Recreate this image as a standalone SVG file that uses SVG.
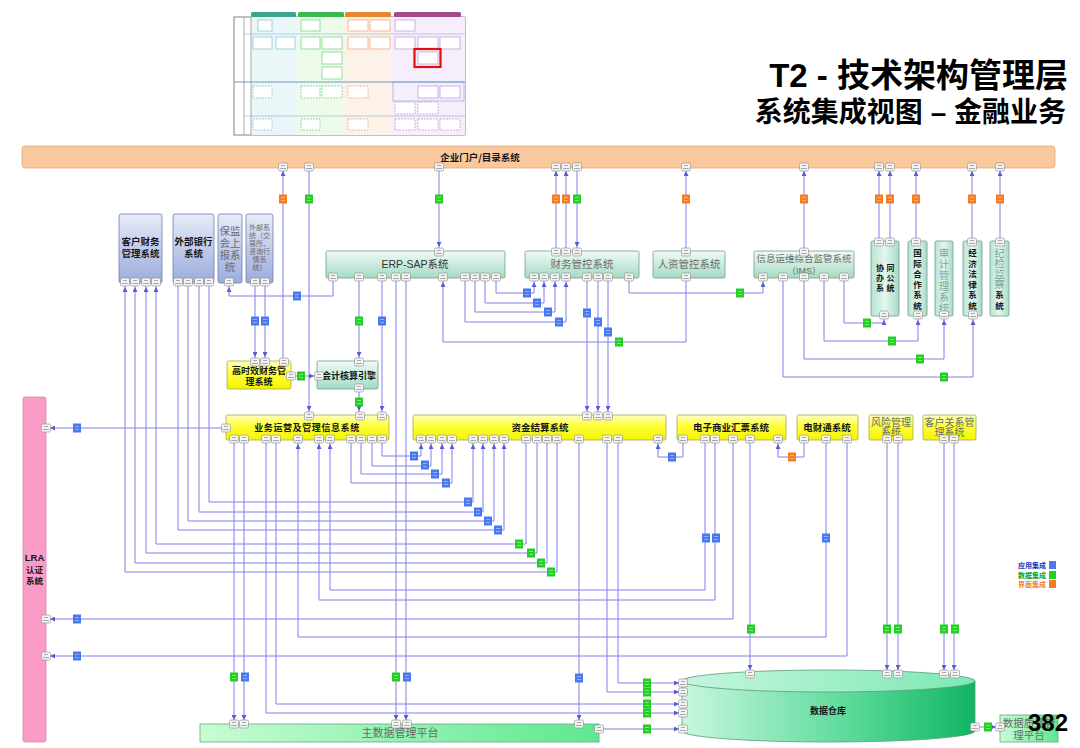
<svg xmlns="http://www.w3.org/2000/svg" width="1080" height="748" viewBox="0 0 1080 748">
<defs>
<style>
.ln{fill:none;stroke:#8080ec;stroke-width:1}
.b{font-family:"Noto Sans CJK SC","Liberation Sans",sans-serif;font-weight:700;fill:#151515;font-size:9.5px}
.s{font-family:"Liberation Serif","Noto Sans CJK SC",serif;fill:#6a6a6a;font-size:10px}
.c{text-anchor:middle}
.title{font-family:"Liberation Sans","Noto Sans CJK SC",sans-serif;font-weight:700;fill:#000;text-anchor:end}
.bx{stroke:#6f7fae;stroke-width:.8}
.tl{stroke:#6f9d8a;stroke-width:.8}
.yl{stroke:#a8a84a;stroke-width:.8}
.doc{fill:#fff;stroke-width:.7}
</style>
<linearGradient id="gBlue" x1="0" y1="0" x2="0" y2="1"><stop offset="0" stop-color="#e8ecf8"/><stop offset="1" stop-color="#9aabdc"/></linearGradient>
<linearGradient id="gTeal" x1="0" y1="0" x2="0" y2="1"><stop offset="0" stop-color="#f0fbf6"/><stop offset="1" stop-color="#a4dac4"/></linearGradient>
<linearGradient id="gTealV" x1="0" y1="0" x2="1" y2="0"><stop offset="0" stop-color="#b6e4d2"/><stop offset=".5" stop-color="#e4f6ee"/><stop offset="1" stop-color="#a8dac6"/></linearGradient>
<linearGradient id="gYel" x1="0" y1="0" x2="0" y2="1"><stop offset="0" stop-color="#ffffc4"/><stop offset=".4" stop-color="#ffff40"/><stop offset="1" stop-color="#f4f400"/></linearGradient>
<linearGradient id="gGrn" x1="0" y1="0" x2="1" y2="0"><stop offset="0" stop-color="#c8fcd4"/><stop offset="1" stop-color="#5ee890"/></linearGradient>
<linearGradient id="gCyl" x1="0" y1="0" x2="1" y2="0"><stop offset="0" stop-color="#c8f7e0"/><stop offset=".6" stop-color="#56d896"/><stop offset="1" stop-color="#10b463"/></linearGradient>
<linearGradient id="gCylTop" x1="0" y1="0" x2="1" y2="0"><stop offset="0" stop-color="#c4f6de"/><stop offset="1" stop-color="#7ee8b4"/></linearGradient>
<marker id="ar" markerWidth="5" markerHeight="5" refX="9" refY="2.5" orient="auto" markerUnits="userSpaceOnUse"><path d="M0,0L5,2.5L0,5z" fill="#5a5ad8"/></marker>
<g id="pt"><rect x="-4.5" y="-4" width="9" height="8" rx="1.5" fill="#f3f3f3" stroke="#8a8a8a" stroke-width=".6"/><path d="M-2,-1.5h4M-3,1.5h6" stroke="#777" stroke-width=".6"/></g>
<g id="lb"><rect x="-4" y="-4.5" width="8" height="9" fill="#4a78f0"/><path d="M-2,-1.5h4M-2,1.5h4" stroke="#d8e4ff" stroke-width=".5"/></g>
<g id="lg"><rect x="-4" y="-4.5" width="8" height="9" fill="#22d022"/><path d="M-2,-1.5h4M-2,1.5h4" stroke="#d8ffd8" stroke-width=".5"/></g>
<g id="lo"><rect x="-4" y="-4.5" width="8" height="9" fill="#f47c22"/><path d="M-2,-1.5h4M-2,1.5h4" stroke="#ffe2cc" stroke-width=".5"/></g>
</defs>
<rect width="1080" height="748" fill="#fff"/>

<!-- thumbnail -->
<g id="thumbnail">
<rect x="234" y="17" width="231" height="118" fill="#fff" stroke="#666" stroke-width=".8"/>
<rect x="251" y="17" width="46" height="118" fill="#eaf6f8"/>
<rect x="297" y="17" width="47" height="118" fill="#eefbea"/>
<rect x="344" y="17" width="48" height="118" fill="#fdf2e8"/>
<rect x="392" y="17" width="73" height="118" fill="#f6eefb"/>
<rect x="251" y="12" width="45" height="5" rx="1.5" fill="#3aa58c"/>
<rect x="298" y="12" width="46" height="5" rx="1.5" fill="#3cb84c"/>
<rect x="345" y="12" width="46" height="5" rx="1.5" fill="#e58a30"/>
<rect x="394" y="12" width="67" height="5" rx="1.5" fill="#a24a8c"/>
<path d="M244,34H465M244,116H465" stroke="#8fb0d0" stroke-width=".6" fill="none"/>
<path d="M234,82H465" stroke="#5f8fc0" stroke-width=".9" fill="none"/>
<path d="M244,17V135M251,17V135" stroke="#777" stroke-width=".6" fill="none"/>
<rect x="393" y="82" width="71" height="19" fill="none" stroke="#7aa0d0" stroke-width=".6"/>
<g stroke="#7cc4cc" class="doc">
<rect x="258" y="20" width="14" height="11"/><rect x="253" y="37" width="19" height="12"/><rect x="276" y="37" width="19" height="12"/>
<rect x="253" y="86" width="19" height="12" stroke-dasharray="2,1"/><rect x="253" y="119" width="19" height="11" stroke-dasharray="2,1"/>
</g>
<g stroke="#6cd07a" class="doc">
<rect x="301" y="20" width="19" height="11"/><rect x="301" y="37" width="19" height="12"/><rect x="322" y="37" width="20" height="12"/>
<rect x="322" y="52" width="20" height="12"/><rect x="322" y="67" width="20" height="12"/>
<rect x="301" y="86" width="19" height="12" stroke-dasharray="2,1"/><rect x="322" y="86" width="20" height="12" stroke-dasharray="2,1"/>
<rect x="301" y="119" width="19" height="11" stroke-dasharray="2,1"/>
</g>
<g stroke="#f0a070" class="doc">
<rect x="348" y="20" width="20" height="11"/><rect x="370" y="20" width="20" height="11"/><rect x="348" y="37" width="20" height="12"/><rect x="370" y="37" width="20" height="12"/>
<rect x="348" y="86" width="20" height="12" stroke-dasharray="2,1"/><rect x="348" y="119" width="20" height="11" stroke-dasharray="2,1"/>
</g>
<g stroke="#c090d8" class="doc">
<rect x="395" y="20" width="20" height="11"/><rect x="395" y="37" width="20" height="12"/><rect x="418" y="37" width="20" height="12"/><rect x="440" y="37" width="20" height="12"/>
<rect x="418" y="52" width="20" height="12"/>
<rect x="418" y="86" width="20" height="12"/><rect x="440" y="86" width="20" height="12"/>
<rect x="395" y="102" width="20" height="12" stroke-dasharray="2,1"/><rect x="418" y="102" width="20" height="12" stroke-dasharray="2,1"/>
<rect x="395" y="119" width="20" height="11" stroke-dasharray="2,1"/><rect x="418" y="119" width="20" height="11" stroke-dasharray="2,1"/><rect x="440" y="119" width="20" height="11" stroke-dasharray="2,1"/>
</g>
<rect x="414.5" y="49" width="26" height="18" fill="none" stroke="#e01010" stroke-width="2.2"/>
</g>

<!-- title -->
<g id="title">
<text class="title" x="1068" y="87" style="font-size:33px">T2 - 技术架构管理层</text>
<text class="title" x="1066" y="122" style="font-size:28px">系统集成视图 – 金融业务</text>
</g>

<!-- nodes -->
<g id="portal"><rect x="22" y="146" width="1033" height="22" rx="3" fill="#f9c89c" stroke="#e3a878" stroke-width=".8"/><text class="b c" x="480" y="161">企业门户/目录系统</text></g>

<g id="khcw"><rect class="bx" x="119" y="214" width="43" height="69" rx="2" fill="url(#gBlue)"/><text class="b c" x="140.5" y="245">客户财务</text><text class="b c" x="140.5" y="257">管理系统</text></g>
<g id="wbyh"><rect class="bx" x="173" y="214" width="41" height="69" rx="2" fill="url(#gBlue)"/><text class="b c" x="193.5" y="245">外部银行</text><text class="b c" x="193.5" y="257">系统</text></g>
<g id="bjh"><rect class="bx" x="218" y="214" width="24" height="69" rx="2" fill="url(#gBlue)"/>
<text class="s c" style="font-size:10.5px"><tspan x="230" y="235">保监</tspan><tspan x="230" y="247">会上</tspan><tspan x="230" y="259">报系</tspan><tspan x="230" y="271">统</tspan></text></g>
<g id="wbxt"><rect class="bx" x="246" y="214" width="27" height="69" rx="2" fill="url(#gBlue)"/>
<text class="s c" style="font-size:7px"><tspan x="259.5" y="230">外部系</tspan><tspan x="259.5" y="238">统（交</tspan><tspan x="259.5" y="246">易所、</tspan><tspan x="259.5" y="254">咨询行</tspan><tspan x="259.5" y="262">情系</tspan><tspan x="259.5" y="270">统）</tspan></text></g>

<g id="erp"><rect class="tl" x="326" y="251" width="179" height="27" rx="1.5" fill="url(#gTeal)"/><text x="415" y="268" font-size="10.5" fill="#333" font-family="Liberation Sans,Noto Sans CJK SC,sans-serif" text-anchor="middle">ERP-SAP系统</text></g>
<g id="cwgk"><rect class="tl" x="525" y="251" width="114" height="27" rx="1.5" fill="url(#gTeal)"/><text class="s c" x="582" y="268" style="font-size:10.5px">财务管控系统</text></g>
<g id="rzgk"><rect class="tl" x="653" y="251" width="72" height="27" rx="1.5" fill="url(#gTeal)"/><text class="s c" x="689" y="268" style="font-size:10.5px">人资管控系统</text></g>
<g id="ims"><rect class="tl" x="754" y="251" width="100" height="27" rx="1.5" fill="url(#gTeal)"/><text class="s c" x="804" y="262" style="font-size:9.5px">信息运维综合监管系统</text><text class="s c" x="804" y="274" style="font-size:9px;font-family:Liberation Sans,Noto Sans CJK SC,sans-serif">（IMS）</text></g>

<g id="xtbg"><rect class="tl" x="871" y="241" width="28" height="75" rx="1.5" fill="url(#gTealV)"/>
<text class="b c" style="font-size:8px"><tspan x="880" y="271">协</tspan><tspan x="890.5" y="271">同</tspan><tspan x="880" y="281">办</tspan><tspan x="890.5" y="281">公</tspan><tspan x="880" y="291">系</tspan><tspan x="890.5" y="291">统</tspan></text></g>
<g id="gjhz"><rect class="tl" x="908" y="241" width="19" height="75" rx="1.5" fill="url(#gTealV)"/>
<text class="b c" style="font-size:8.5px"><tspan x="917.5" y="256">国</tspan><tspan x="917.5" y="266.5">际</tspan><tspan x="917.5" y="277">合</tspan><tspan x="917.5" y="287.5">作</tspan><tspan x="917.5" y="298">系</tspan><tspan x="917.5" y="308.5">统</tspan></text></g>
<g id="sjgl"><rect class="tl" x="935" y="241" width="18" height="75" rx="1.5" fill="url(#gTealV)"/>
<text class="s c" style="font-size:10px;fill:#7aa49a"><tspan x="944" y="257">审</tspan><tspan x="944" y="268">计</tspan><tspan x="944" y="279">管</tspan><tspan x="944" y="290">理</tspan><tspan x="944" y="301">系</tspan><tspan x="944" y="312">统</tspan></text></g>
<g id="jjfl"><rect class="tl" x="963" y="241" width="19" height="75" rx="1.5" fill="url(#gTealV)"/>
<text class="b c" style="font-size:8.5px"><tspan x="972.5" y="256">经</tspan><tspan x="972.5" y="266.5">济</tspan><tspan x="972.5" y="277">法</tspan><tspan x="972.5" y="287.5">律</tspan><tspan x="972.5" y="298">系</tspan><tspan x="972.5" y="308.5">统</tspan></text></g>
<g id="jjjc"><rect class="tl" x="990" y="241" width="19" height="75" rx="1.5" fill="url(#gTealV)"/>
<text class="s c" style="font-size:10px;fill:#7aa49a"><tspan x="999.5" y="257">纪</tspan><tspan x="999.5" y="267">检</tspan><tspan x="999.5" y="278">监</tspan><tspan x="999.5" y="288">察</tspan></text>
<text class="b c" style="font-size:8.5px"><tspan x="999.5" y="298">系</tspan><tspan x="999.5" y="308.5">统</tspan></text></g>

<g id="gsx"><rect class="yl" x="227" y="361" width="64" height="28" rx="1.5" fill="url(#gYel)"/><text class="b c" x="259" y="374" style="font-size:9px">高时效财务管</text><text class="b c" x="259" y="385" style="font-size:9px">理系统</text></g>
<g id="kjhs"><rect class="tl" x="317" y="361" width="61" height="28" rx="1.5" fill="url(#gTeal)"/><text class="b c" x="349" y="379" style="font-size:9px">会计核算引擎</text></g>

<g id="ywyy"><rect class="yl" x="226" y="415" width="163" height="25" rx="1.5" fill="url(#gYel)"/><text class="b c" x="307" y="431" style="font-size:9px;letter-spacing:.6px">业务运营及管理信息系统</text></g>
<g id="zjjs"><rect class="yl" x="413" y="415" width="253" height="25" rx="1.5" fill="url(#gYel)"/><text class="b c" x="540" y="431">资金结算系统</text></g>
<g id="dzsyhp"><rect class="yl" x="677" y="415" width="109" height="25" rx="1.5" fill="url(#gYel)"/><text class="b c" x="731" y="431">电子商业汇票系统</text></g>
<g id="dct"><rect class="yl" x="797" y="415" width="61" height="25" rx="1.5" fill="url(#gYel)"/><text class="b c" x="827" y="431">电财通系统</text></g>
<g id="fxgl"><rect class="yl" x="869" y="415" width="44" height="25" rx="1.5" fill="url(#gYel)"/><text class="s c" x="891" y="425.5">风险管理</text><text class="s c" x="891" y="436">系统</text></g>
<g id="khgx"><rect class="yl" x="923" y="415" width="53" height="25" rx="1.5" fill="url(#gYel)"/><text class="s c" x="949.5" y="425.5">客户关系管</text><text class="s c" x="949.5" y="436">理系统</text></g>

<g id="lra"><rect x="23" y="397" width="23" height="345" rx="2" fill="#fb9cc8" stroke="#d888aa" stroke-width=".8"/><text class="b c" x="34.5" y="561" style="font-family:Liberation Sans,Noto Sans CJK SC,sans-serif;font-size:9.5px">LRA</text><text class="b c" x="34.5" y="573" style="font-size:8.5px">认证</text><text class="b c" x="34.5" y="584" style="font-size:8.5px">系统</text></g>

<g id="zsj"><rect x="200" y="724" width="399" height="18" fill="url(#gGrn)" stroke="#6aa87a" stroke-width=".8"/><text class="s c" x="400" y="737" style="font-size:11px">主数据管理平台</text></g>

<g id="sjck"><path d="M682,681V731A146.5,11 0 0 0 975,731V681Z" fill="url(#gCyl)" stroke="#5a9a7a" stroke-width=".8"/><ellipse cx="828.5" cy="681" rx="146.5" ry="11" fill="url(#gCylTop)" stroke="#5a9a7a" stroke-width=".8"/><text class="b c" x="828" y="714" style="font-size:9px">数据仓库</text></g>

<g id="sjzl"><rect x="1000" y="715" width="58" height="27" fill="url(#gGrn)" stroke="#6aa87a" stroke-width=".8"/><text class="s c" x="1029" y="727" style="font-size:10.5px">数据质量管</text><text class="s c" x="1029" y="739" style="font-size:10.5px">理平台</text></g>

<!-- connectors -->
<g id="connectors" class="ln" marker-end="url(#ar)">
<path d="M283,361V167"/><path d="M309,167V415"/><path d="M439,167V251"/>
<path d="M556,251V167"/><path d="M566,251V167"/><path d="M577,167V251"/>
<path d="M686,251V167"/><path d="M804,251V167"/><path d="M879,241V167"/><path d="M890,241V167"/>
<path d="M916,241V167"/><path d="M972,241V167"/><path d="M1000,241V167"/>
<path d="M557,440V572H125V283"/><path d="M547,440V563H135V283"/><path d="M537,440V553H146V283"/><path d="M526,440V544H156V283"/>
<path d="M178,283V530H504V440"/><path d="M188,283V521H494V440"/><path d="M199,283V512H483V440"/><path d="M209,283V502H473V440"/>
<path d="M333,278V296H229V283"/>
<path d="M255,283V361"/><path d="M265,283V361"/>
<path d="M359,278V361"/><path d="M382,278V415"/><path d="M396,278V724"/><path d="M406,278V724"/>
<path d="M686,278V342H443V278"/>
<path d="M465,278V322H566V278"/><path d="M475,278V312H555V278"/><path d="M485,278V303H544V278"/><path d="M496,278V293H534V278"/>
<path d="M587,278V415"/><path d="M598,278V415"/><path d="M608,278V415"/>
<path d="M629,278V293H763V278"/>
<path d="M844,278V323H884V316"/><path d="M824,278V341H918V316"/><path d="M804,278V359H944V316"/><path d="M783,278V377H973V316"/>
<path d="M291,376H318"/><path d="M359,389V415"/>
<path d="M226,428H46"/>
<path d="M382,440V456H421V440"/><path d="M372,440V466H431V440"/><path d="M361,440V474H442V440"/><path d="M351,440V483H452V440"/>
<path d="M234,440V724"/><path d="M244,440V724"/>
<path d="M266,440V713H683"/><path d="M276,440V704H683"/>
<path d="M826,440V637H298V440"/><path d="M715,440V600H319V440"/><path d="M705,440V590H330V440"/>
<path d="M733,440V619H46"/><path d="M750,440V674"/>
<path d="M683,440V457H658V440"/><path d="M804,440V457H778V440"/>
<path d="M847,440V656H46"/>
<path d="M579,440V724"/><path d="M607,440V692H683"/><path d="M618,440V683H683"/>
<path d="M599,729H683"/>
<path d="M887,440V674"/><path d="M898,440V674"/><path d="M944,440V674"/><path d="M954,440V674"/>
<path d="M975,727H1000"/>
</g>

<!-- integration labels -->
<g id="labels">
<use href="#lo" x="283" y="199"/><use href="#lg" x="309" y="199"/><use href="#lg" x="439" y="199"/>
<use href="#lo" x="556" y="199"/><use href="#lo" x="566" y="199"/><use href="#lg" x="577" y="199"/>
<use href="#lo" x="686" y="199"/><use href="#lo" x="804" y="199"/><use href="#lo" x="879" y="199"/><use href="#lo" x="890" y="199"/>
<use href="#lo" x="916" y="199"/><use href="#lo" x="972" y="199"/><use href="#lo" x="1000" y="199"/>
<use href="#lb" x="297" y="296"/><use href="#lb" x="255" y="321"/><use href="#lb" x="265" y="321"/>
<use href="#lg" x="359" y="321"/><use href="#lb" x="382" y="321"/>
<use href="#lb" x="527" y="293"/><use href="#lb" x="537" y="303"/><use href="#lb" x="548" y="312"/><use href="#lb" x="559" y="322"/>
<use href="#lb" x="587" y="313"/><use href="#lb" x="598" y="322"/><use href="#lb" x="608" y="332"/>
<use href="#lg" x="619" y="342"/><use href="#lg" x="740" y="293"/>
<use href="#lg" x="867" y="323"/><use href="#lg" x="892" y="341"/><use href="#lg" x="920" y="359"/><use href="#lg" x="944" y="377"/>
<use href="#lg" x="301" y="376"/><use href="#lg" x="359" y="402"/>
<use href="#lb" x="77" y="428"/>
<use href="#lb" x="414" y="456"/><use href="#lb" x="425" y="465"/><use href="#lb" x="435" y="474"/><use href="#lb" x="446" y="483"/>
<use href="#lb" x="468" y="502"/><use href="#lb" x="478" y="512"/><use href="#lb" x="488" y="521"/><use href="#lb" x="498" y="530"/>
<use href="#lg" x="519" y="544"/><use href="#lg" x="531" y="553"/><use href="#lg" x="541" y="563"/><use href="#lg" x="551" y="572"/>
<use href="#lb" x="672" y="457"/><use href="#lo" x="792" y="457"/>
<use href="#lb" x="706" y="538"/><use href="#lb" x="716" y="538"/><use href="#lb" x="826" y="538"/>
<use href="#lb" x="77" y="619"/><use href="#lb" x="77" y="656"/>
<use href="#lg" x="234" y="677"/><use href="#lb" x="245" y="677"/><use href="#lg" x="396" y="677"/><use href="#lb" x="407" y="677"/><use href="#lb" x="579" y="678"/>
<use href="#lg" x="647" y="683"/><use href="#lg" x="647" y="692"/><use href="#lg" x="647" y="704"/><use href="#lg" x="647" y="713"/><use href="#lg" x="647" y="729"/>
<use href="#lg" x="751" y="629"/><use href="#lg" x="887" y="629"/><use href="#lg" x="898" y="629"/><use href="#lg" x="944" y="629"/><use href="#lg" x="955" y="629"/>
<use href="#lg" x="988" y="727"/>
</g>

<!-- ports -->
<g id="ports">
<use href="#pt" x="283" y="167"/><use href="#pt" x="309" y="167"/><use href="#pt" x="439" y="167"/><use href="#pt" x="556" y="167"/><use href="#pt" x="566" y="167"/><use href="#pt" x="577" y="167"/><use href="#pt" x="686" y="167"/><use href="#pt" x="804" y="167"/><use href="#pt" x="879" y="167"/><use href="#pt" x="890" y="167"/><use href="#pt" x="916" y="167"/><use href="#pt" x="972" y="167"/><use href="#pt" x="1000" y="167"/>
<use href="#pt" x="255" y="362"/><use href="#pt" x="265" y="362"/><use href="#pt" x="284" y="362"/>
<use href="#pt" x="309" y="416"/><use href="#pt" x="360" y="416"/><use href="#pt" x="382" y="416"/>
<use href="#pt" x="439" y="252"/><use href="#pt" x="556" y="252"/><use href="#pt" x="566" y="252"/><use href="#pt" x="577" y="252"/><use href="#pt" x="686" y="252"/><use href="#pt" x="804" y="252"/>
<use href="#pt" x="879" y="242"/><use href="#pt" x="890" y="242"/><use href="#pt" x="916" y="242"/><use href="#pt" x="972" y="242"/><use href="#pt" x="1000" y="242"/>
<use href="#pt" x="359" y="362"/><use href="#pt" x="587" y="416"/><use href="#pt" x="598" y="416"/><use href="#pt" x="608" y="416"/>
<use href="#pt" x="125" y="282"/><use href="#pt" x="135" y="282"/><use href="#pt" x="146" y="282"/><use href="#pt" x="156" y="282"/>
<use href="#pt" x="178" y="282"/><use href="#pt" x="188" y="282"/><use href="#pt" x="199" y="282"/><use href="#pt" x="209" y="282"/>
<use href="#pt" x="229" y="282"/><use href="#pt" x="255" y="282"/><use href="#pt" x="265" y="282"/>
<use href="#pt" x="333" y="277"/><use href="#pt" x="359" y="277"/><use href="#pt" x="382" y="277"/><use href="#pt" x="396" y="277"/><use href="#pt" x="406" y="277"/><use href="#pt" x="443" y="277"/><use href="#pt" x="465" y="277"/><use href="#pt" x="475" y="277"/><use href="#pt" x="485" y="277"/><use href="#pt" x="496" y="277"/>
<use href="#pt" x="534" y="277"/><use href="#pt" x="544" y="277"/><use href="#pt" x="555" y="277"/><use href="#pt" x="566" y="277"/><use href="#pt" x="587" y="277"/><use href="#pt" x="598" y="277"/><use href="#pt" x="608" y="277"/><use href="#pt" x="629" y="277"/>
<use href="#pt" x="686" y="277"/>
<use href="#pt" x="763" y="277"/><use href="#pt" x="783" y="277"/><use href="#pt" x="804" y="277"/><use href="#pt" x="824" y="277"/><use href="#pt" x="844" y="277"/>
<use href="#pt" x="884" y="315"/><use href="#pt" x="918" y="315"/><use href="#pt" x="944" y="315"/><use href="#pt" x="973" y="315"/>
<use href="#pt" x="359" y="388"/><use href="#pt" x="319" y="376"/><use href="#pt" x="291" y="376"/>
<use href="#pt" x="234" y="439"/><use href="#pt" x="244" y="439"/><use href="#pt" x="266" y="439"/><use href="#pt" x="276" y="439"/><use href="#pt" x="298" y="439"/><use href="#pt" x="319" y="439"/><use href="#pt" x="330" y="439"/><use href="#pt" x="351" y="439"/><use href="#pt" x="361" y="439"/><use href="#pt" x="372" y="439"/><use href="#pt" x="382" y="439"/><use href="#pt" x="226" y="428"/>
<use href="#pt" x="421" y="439"/><use href="#pt" x="431" y="439"/><use href="#pt" x="442" y="439"/><use href="#pt" x="452" y="439"/><use href="#pt" x="473" y="439"/><use href="#pt" x="483" y="439"/><use href="#pt" x="494" y="439"/><use href="#pt" x="504" y="439"/><use href="#pt" x="526" y="439"/><use href="#pt" x="537" y="439"/><use href="#pt" x="547" y="439"/><use href="#pt" x="557" y="439"/><use href="#pt" x="579" y="439"/><use href="#pt" x="607" y="439"/><use href="#pt" x="618" y="439"/><use href="#pt" x="658" y="439"/>
<use href="#pt" x="683" y="439"/><use href="#pt" x="705" y="439"/><use href="#pt" x="715" y="439"/><use href="#pt" x="733" y="439"/><use href="#pt" x="750" y="439"/><use href="#pt" x="778" y="439"/>
<use href="#pt" x="804" y="439"/><use href="#pt" x="826" y="439"/><use href="#pt" x="847" y="439"/>
<use href="#pt" x="887" y="439"/><use href="#pt" x="898" y="439"/><use href="#pt" x="944" y="439"/><use href="#pt" x="954" y="439"/>
<use href="#pt" x="46" y="428"/><use href="#pt" x="46" y="619"/><use href="#pt" x="46" y="656"/>
<use href="#pt" x="234" y="724"/><use href="#pt" x="244" y="724"/><use href="#pt" x="396" y="724"/><use href="#pt" x="407" y="724"/><use href="#pt" x="579" y="724"/><use href="#pt" x="599" y="729"/>
<use href="#pt" x="683" y="683"/><use href="#pt" x="683" y="692"/><use href="#pt" x="683" y="704"/><use href="#pt" x="683" y="713"/><use href="#pt" x="683" y="729"/>
<use href="#pt" x="750" y="674"/><use href="#pt" x="887" y="674"/><use href="#pt" x="898" y="674"/><use href="#pt" x="944" y="674"/><use href="#pt" x="955" y="674"/>
<use href="#pt" x="975" y="727"/><use href="#pt" x="1000" y="727"/>
</g>

<!-- legend -->
<g id="legend" font-family="Noto Sans CJK SC,sans-serif" font-weight="700" font-size="7">
<text x="1018" y="568" fill="#2030c0">应用集成</text><rect x="1049" y="561" width="7" height="8" fill="#4a78f0"/>
<text x="1018" y="578" fill="#10a010">数据集成</text><rect x="1049" y="571" width="7" height="8" fill="#22d022"/>
<text x="1018" y="587" fill="#f08030">界面集成</text><rect x="1049" y="580" width="7" height="8" fill="#f47c22"/>
</g>

<text id="pageno" x="1068" y="731" font-family="Liberation Sans,sans-serif" font-weight="700" font-size="24" text-anchor="end" fill="#000">382</text>
</svg>
